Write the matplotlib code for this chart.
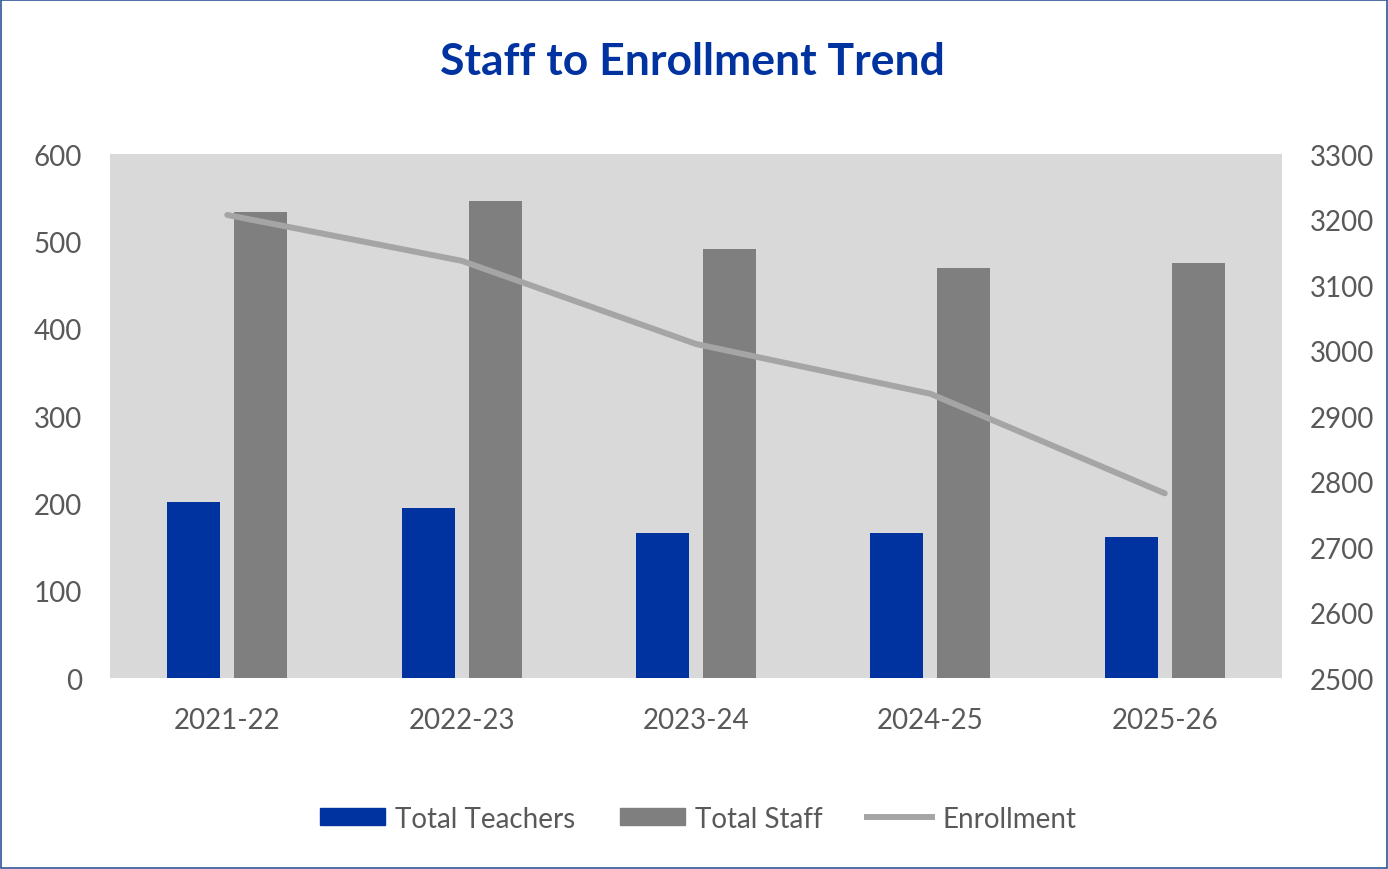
import matplotlib.pyplot as plt
import numpy as np
from matplotlib.patches import Rectangle
from matplotlib.lines import Line2D

years = ['2021-22', '2022-23', '2023-24', '2024-25', '2025-26']
teachers = [202, 195, 166, 166, 161]
staff = [534, 546, 491, 470, 475]
enrollment = [3207, 3137, 3010, 2934, 2782]

plt.rcParams['font.family'] = ['Lato', 'DejaVu Sans']
tick_color = '#595959'
blue = '#0033A0'
dark_gray = '#7F7F7F'
light_gray = '#A5A5A5'

fig = plt.figure(figsize=(13.88, 8.7), dpi=100)
fig.patches.append(Rectangle((0.001, 0.001), 0.998, 0.998, transform=fig.transFigure,
                             fill=False, edgecolor='#2F5597', linewidth=1.2))
ax = fig.add_axes([0.0793, 0.2195, 0.8443, 0.6023])
ax.set_facecolor('#D9D9D9')

x = np.arange(len(years))
w = 0.226
off = 0.143
ax.bar(x - off, teachers, width=w, color=blue, label='Total Teachers', zorder=2)
ax.bar(x + off, staff, width=w, color=dark_gray, label='Total Staff', zorder=2)
ax.set_xlim(-0.5, len(years) - 0.5)
ax.set_ylim(0, 600)
ax.set_yticks(range(0, 601, 100))
ax.set_xticks(x)
ax.set_xticklabels(years)

ax2 = ax.twinx()
ax2.plot(x, enrollment, color=light_gray, linewidth=4.3, solid_capstyle='round',
         solid_joinstyle='round', label='Enrollment')
ax2.set_ylim(2500, 3300)
ax2.set_yticks(range(2500, 3301, 100))

for a in (ax, ax2):
    for s in a.spines.values():
        s.set_visible(False)
    a.tick_params(length=0, labelsize=20, colors=tick_color)
ax.tick_params(axis='y', pad=20)
ax.tick_params(axis='x', pad=21)
ax2.tick_params(axis='y', pad=20)

fig.text(0.4986, 0.929, 'Staff to Enrollment Trend', ha='center', va='center',
         fontsize=32, fontweight='bold', color=blue)

handles = [Rectangle((0, 0), 1, 1, color=blue), Rectangle((0, 0), 1, 1, color=dark_gray),
           Line2D([0], [0], color=light_gray, linewidth=4.3)]
fig.legend(handles, ['Total Teachers', 'Total Staff', 'Enrollment'], loc='center',
           bbox_to_anchor=(0.503, 0.058), ncol=3, frameon=False, fontsize=20,
           handlelength=2.34, handleheight=0.58, handletextpad=0.36, columnspacing=1.6,
           labelcolor=tick_color)

fig.savefig('out.png', dpi=100)
